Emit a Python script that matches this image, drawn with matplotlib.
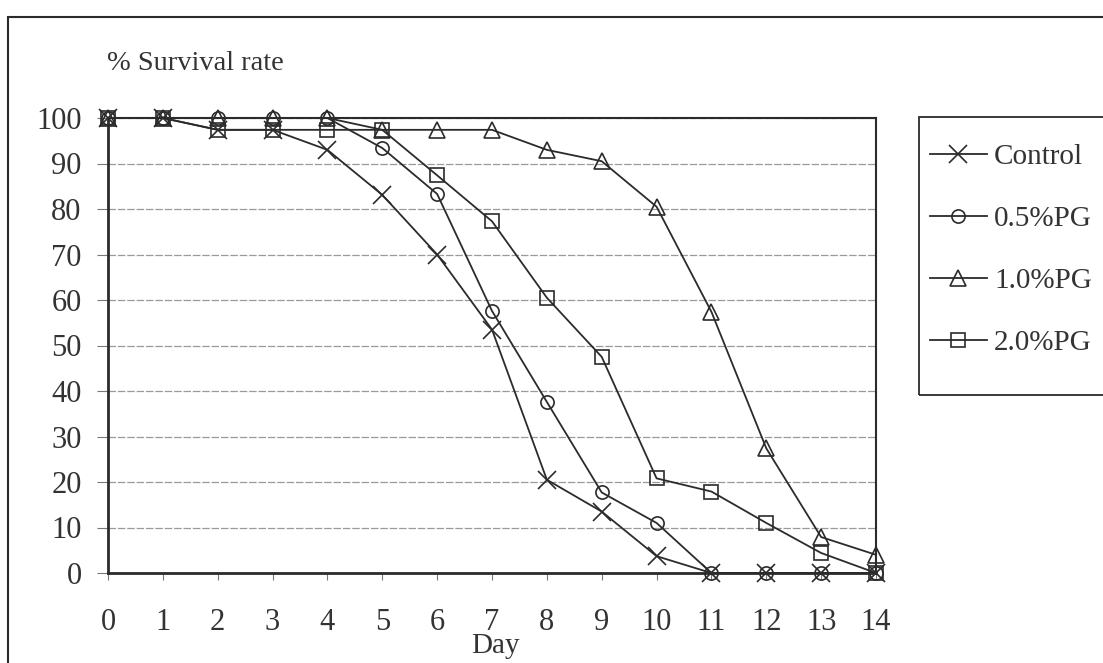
import matplotlib
matplotlib.use("Agg")
import matplotlib.pyplot as plt
from matplotlib.patches import Rectangle

plt.rcParams['font.family'] = ['Liberation Serif', 'DejaVu Serif']

# survival (%) per day for each treatment
days = list(range(15))
control = [100, 100, 97.4, 97.4, 93.0, 83.1, 70.0, 53.5, 20.5, 13.5, 3.7, 0, 0, 0, 0]
pg_05 = [100, 100, 100, 100, 100, 93.4, 83.3, 57.6, 37.6, 17.7, 11.0, 0, 0, 0, 0]
pg_10 = [100, 100, 100, 100, 100, 97.4, 97.4, 97.4, 93.0, 90.5, 80.5, 57.4, 27.4, 7.9, 4.0]
pg_20 = [100, 100, 97.4, 97.4, 97.4, 97.4, 87.4, 77.3, 60.5, 47.5, 20.8, 17.9, 11.0, 4.4, 0]

series = [
    ("Control", control, "x", 13),
    ("0.5%PG", pg_05, "o", 9.5),
    ("1.0%PG", pg_10, "^", 11),
    ("2.0%PG", pg_20, "s", 9.5),
]

W, H = 1103, 663
fig = plt.figure(figsize=(W / 100, H / 100), dpi=100)
ax = fig.add_axes([108 / W, 1 - 573 / H, (876 - 108) / W, (573 - 118) / H])

ink = "#2b2b2b"
for name, vals, mk, ms in series:
    ax.plot(days, vals, color=ink, linewidth=1.3, marker=mk, markersize=ms,
            markerfacecolor="none", markeredgecolor=ink, markeredgewidth=1.2,
            label=name, clip_on=False, zorder=3)

ax.set_xlim(0, 14)
ax.set_ylim(0, 100)
ax.set_xticks(days)
ax.set_yticks(range(0, 101, 10))
ax.yaxis.grid(True, color="#9a9a9a", linewidth=0.9, linestyle=(0, (6, 1.5)))
ax.set_axisbelow(True)

for side in ["left", "bottom"]:
    ax.spines[side].set_linewidth(2.0)
    ax.spines[side].set_color(ink)
for side in ["top", "right"]:
    ax.spines[side].set_linewidth(1.5)
    ax.spines[side].set_color(ink)

ax.tick_params(axis="x", direction="out", length=5, width=0.8, color="#777777",
               pad=20, labelsize=22, labelcolor="#333333")
ax.tick_params(axis="y", direction="out", length=8, width=0.8, color="#777777",
               pad=11, labelsize=22, labelcolor="#333333")

fig.text(495 / W, 1 - 646 / H, "Day", ha="center", va="center",
         fontsize=21, color="#333333")
fig.text(107 / W, 1 - 63 / H, "% Survival rate", ha="left", va="center",
         fontsize=20.5, color="#333333")

# legend entries without their own frame; box drawn separately
leg = fig.legend(loc="upper left", bbox_to_anchor=(930 / W, 1 - 144 / H),
                 frameon=False, fontsize=21, handlelength=1.95,
                 handletextpad=0.25, labelspacing=1.22, borderpad=0,
                 borderaxespad=0)
for t in leg.get_texts():
    t.set_color("#333333")

fig.patches.append(Rectangle((919 / W, 1 - 395 / H), 0.2, (395 - 117) / H,
                             transform=fig.transFigure, fill=False,
                             edgecolor=ink, linewidth=1.3))

# outer chart border
fig.patches.append(Rectangle((8 / W, -0.1), 1.2, 1 - 17 / H + 0.1,
                             transform=fig.transFigure, fill=False,
                             edgecolor=ink, linewidth=1.5))

fig.savefig("out.png", dpi=100)
